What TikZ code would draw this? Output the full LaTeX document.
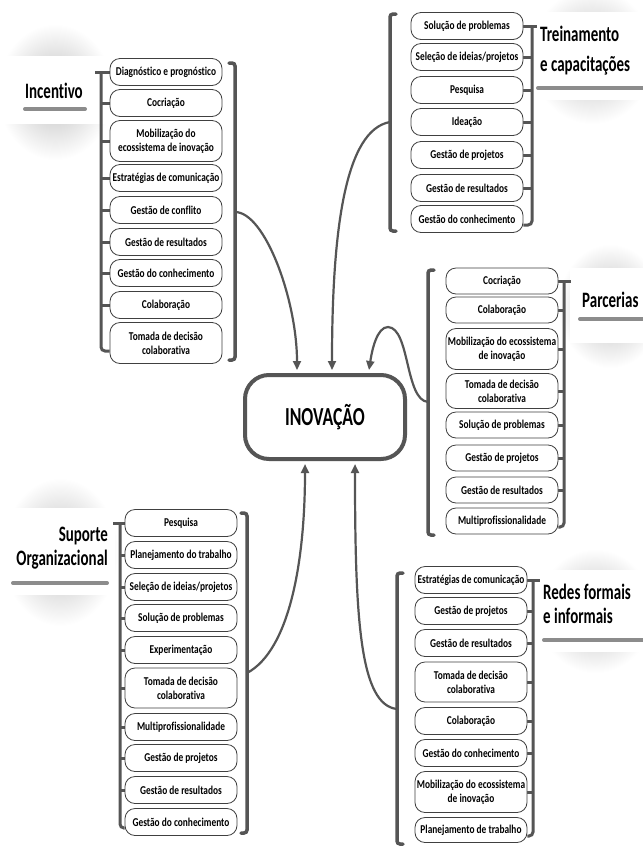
\documentclass[tikz,border=0pt]{standalone}
\usepackage{fontspec}
\setmainfont{Carlito}
\newfontfamily\boxfont[FakeStretch=0.78,Ligatures=NoCommon]{Carlito}
\newfontfamily\headfont[FakeStretch=0.68,Ligatures=NoCommon]{Carlito}
\usetikzlibrary{arrows.meta}

\definecolor{linegray}{HTML}{555555}
\definecolor{bargray}{HTML}{8C8C8C}
\pgfdeclareradialshading{glow}{\pgfpoint{0bp}{0bp}}{color(0bp)=(black!26); color(25bp)=(white); color(50bp)=(white)}
\pgfdeclarelayer{shadow}
\pgfdeclarelayer{lines}
\pgfsetlayers{shadow,lines,main}

\tikzset{
  item/.style={draw=black!75, fill=white, rounded corners=10pt, line width=0.8pt,
    minimum width=112pt, minimum height=27pt, inner sep=1pt, align=center,
    font=\boxfont\bfseries\fontsize{12}{14}\selectfont},
  tall/.style={minimum height=41pt},
  core/.style={draw=linegray, line width=4pt, fill=white, rounded corners=24pt,
    minimum width=160pt, minimum height=84pt,
    font=\headfont\bfseries\fontsize{26}{30}\selectfont},
  head/.style={inner sep=0pt, font=\headfont\bfseries\fontsize{22}{24}\selectfont},
  bar/.style={bargray, line width=4pt, line cap=round},
  tree/.style={linegray, line width=3pt},
  brack/.style={linegray, line width=3.5pt, rounded corners=3pt, line cap=round},
  link/.style={linegray, line width=2.2pt, ->}
}

\begin{document}
\begin{tikzpicture}[x=1pt,y=-1pt,>={Triangle[length=9pt,width=8pt]}]
  \useasboundingbox (0,0) rectangle (643,847);

  \node[core] (inov) at (325,417) {INOVAÇÃO};

  % Incentivo
  \node[head, anchor=base west] (incHead) at (25,98) {Incentivo};
  \node[item] (inc1) at (166,72) {Diagnóstico e prognóstico};
  \node[item] (inc2) at (166,103) {Cocriação};
  \node[item,tall] (inc3) at (166,141) {Mobilização do\\ecossistema de inovação};
  \node[item] (inc4) at (166,178) {Estratégias de comunicação};
  \node[item] (inc5) at (166,210) {Gestão de conflito};
  \node[item] (inc6) at (166,242) {Gestão de resultados};
  \node[item] (inc7) at (166,273) {Gestão do conhecimento};
  \node[item] (inc8) at (166,305) {Colaboração};
  \node[item,tall] (inc9) at (166,343) {Tomada de decisão\\colaborativa};

  % Treinamento
  \node[head, anchor=north west, align=left, font=\headfont\bfseries\fontsize{22}{30}\selectfont]
    (treHead) at (540,26) {Treinamento\\e capacitações};
  \node[item] (tre1) at (467,26) {Solução de problemas};
  \node[item] (tre2) at (467,57) {Seleção de ideias/projetos};
  \node[item] (tre3) at (467,90) {Pesquisa};
  \node[item] (tre4) at (467,122) {Ideação};
  \node[item] (tre5) at (467,155) {Gestão de projetos};
  \node[item] (tre6) at (467,188) {Gestão de resultados};
  \node[item] (tre7) at (467,219) {Gestão do conhecimento};

  % Parcerias
  \node[head, anchor=base west] (parHead) at (582,307) {Parcerias};
  \node[item,minimum height=26pt] (par1) at (502,281) {Cocriação};
  \node[item,minimum height=26pt] (par2) at (502,310) {Colaboração};
  \node[item,tall] (par3) at (502,349) {Mobilização do ecossistema\\de inovação};
  \node[item,minimum height=35pt] (par4) at (502,391) {Tomada de decisão\\colaborativa};
  \node[item,minimum height=26pt] (par5) at (502,425) {Solução de problemas};
  \node[item,minimum height=26pt] (par6) at (502,458) {Gestão de projetos};
  \node[item,minimum height=26pt] (par7) at (502,490) {Gestão de resultados};
  \node[item,minimum height=26pt] (par8) at (502,521) {Multiprofissionalidade};

  % Suporte Organizacional
  \node[head, anchor=north east, align=right] (supHead) at (108,527) {Suporte\\Organizacional};
  \node[item] (sup1) at (181,523) {Pesquisa};
  \node[item] (sup2) at (181,555) {Planejamento do trabalho};
  \node[item] (sup3) at (181,587) {Seleção de ideias/projetos};
  \node[item] (sup4) at (181,618) {Solução de problemas};
  \node[item] (sup5) at (181,650) {Experimentação};
  \node[item,minimum height=40pt] (sup6) at (181,688) {Tomada de decisão\\colaborativa};
  \node[item] (sup7) at (181,727) {Multiprofissionalidade};
  \node[item] (sup8) at (181,758) {Gestão de projetos};
  \node[item] (sup9) at (181,790) {Gestão de resultados};
  \node[item] (sup10) at (181,822) {Gestão do conhecimento};

  % Redes formais e informais
  \node[head, anchor=north west, align=left] (redHead) at (543,584) {Redes formais\\e informais};
  \node[item] (red1) at (471,580) {Estratégias de comunicação};
  \node[item] (red2) at (471,611) {Gestão de projetos};
  \node[item] (red3) at (471,643) {Gestão de resultados};
  \node[item,minimum height=40pt] (red4) at (471,682) {Tomada de decisão\\colaborativa};
  \node[item] (red5) at (471,721) {Colaboração};
  \node[item] (red6) at (471,753) {Gestão do conhecimento};
  \node[item,tall] (red7) at (471,792) {Mobilização do ecossistema\\de inovação};
  \node[item,minimum height=25pt] (red8) at (471,830) {Planejamento de trabalho};

  \draw[bar] (25,109) -- (85,109);
  \draw[bar] (538,88) -- (650,88);
  \draw[bar] (580,319) -- (650,319);
  \draw[bar] (13,583) -- (107,583);
  \draw[bar] (544,640) -- (650,640);

  \begin{pgfonlayer}{shadow}
    \fill[white] (0,0) rectangle (643,847);
    \shade[shading=glow] (55,92) ellipse [x radius=58, y radius=68];
    \shade[shading=glow] (592,56) ellipse [x radius=62, y radius=68];
    \shade[shading=glow] (610,306) ellipse [x radius=52, y radius=62];
    \shade[shading=glow] (60,552) ellipse [x radius=58, y radius=74];
    \shade[shading=glow] (595,611) ellipse [x radius=58, y radius=62];
    \fill[white] (0,56) rectangle (110,124);
    \fill[white] (534,12) rectangle (643,100);
    \fill[white] (570,268) rectangle (643,343);
    \fill[white] (0,508) rectangle (115,595);
    \fill[white] (538,570) rectangle (643,652);
  \end{pgfonlayer}

  \begin{pgfonlayer}{lines}
    \coordinate (incT) at (101,72);
    \coordinate (treT) at (532,26);
    \coordinate (parT) at (564,281);
    \coordinate (supT) at (120,523);
    \coordinate (redT) at (533,580);

    \draw[tree] ([xshift=-6pt]incT) -- (inc1.west);
    \draw[tree,rounded corners=4pt] (incT) |- ([yshift=-8pt]inc9.west);
    \draw[tree] (inc2.west) -- (inc2.west -| incT) (inc3.west) -- (inc3.west -| incT)
      (inc4.west) -- (inc4.west -| incT) (inc5.west) -- (inc5.west -| incT)
      (inc6.west) -- (inc6.west -| incT) (inc7.west) -- (inc7.west -| incT)
      (inc8.west) -- (inc8.west -| incT);

    \draw[tree] (tre1.east) -- ([xshift=5pt]treT);
    \draw[tree,rounded corners=4pt] (treT) |- ([yshift=-6pt]tre7.east);
    \draw[tree] (tre2.east) -- (tre2.east -| treT) (tre3.east) -- (tre3.east -| treT)
      (tre4.east) -- (tre4.east -| treT) (tre5.east) -- (tre5.east -| treT)
      (tre6.east) -- (tre6.east -| treT);

    \draw[tree] (par1.east) -- ([xshift=7pt]parT);
    \draw[tree,rounded corners=4pt] (parT) |- ([yshift=-6pt]par8.east);
    \draw[tree] (par2.east) -- (par2.east -| parT) (par3.east) -- (par3.east -| parT)
      (par4.east) -- (par4.east -| parT) (par5.east) -- (par5.east -| parT)
      (par6.east) -- (par6.east -| parT) (par7.east) -- (par7.east -| parT);

    \draw[tree] ([xshift=-7pt]supT) -- (sup1.west);
    \draw[tree,rounded corners=4pt] (supT) |- ([yshift=-6pt]sup10.west);
    \draw[tree] (sup2.west) -- (sup2.west -| supT) (sup3.west) -- (sup3.west -| supT)
      (sup4.west) -- (sup4.west -| supT) (sup5.west) -- (sup5.west -| supT)
      (sup6.west) -- (sup6.west -| supT) (sup7.west) -- (sup7.west -| supT)
      (sup8.west) -- (sup8.west -| supT) (sup9.west) -- (sup9.west -| supT);

    \draw[tree] (red1.east) -- ([xshift=7pt]redT);
    \draw[tree,rounded corners=4pt] (redT) |- ([yshift=-6pt]red8.east);
    \draw[tree] (red2.east) -- (red2.east -| redT) (red3.east) -- (red3.east -| redT)
      (red4.east) -- (red4.east -| redT) (red5.east) -- (red5.east -| redT)
      (red6.east) -- (red6.east -| redT) (red7.east) -- (red7.east -| redT);

    \coordinate (incB1) at (235,63);
    \coordinate (incB2) at (235,360);
    \coordinate (incM) at (235,212);
    \coordinate (treB1) at (390,14);
    \coordinate (treB2) at (390,231);
    \coordinate (treM) at (390,122);
    \coordinate (parB1) at (428,270);
    \coordinate (parB2) at (428,535);
    \coordinate (parM) at (428,402);
    \coordinate (supB1) at (247,513);
    \coordinate (supB2) at (247,833);
    \coordinate (supM) at (247,673);
    \coordinate (redB1) at (397,573);
    \coordinate (redB2) at (397,844);
    \coordinate (redM) at (397,709);

    \draw[brack] ([xshift=-6pt]incB1) -- (incB1) -- (incB2) -- ([xshift=-6pt]incB2);
    \draw[brack] ([xshift=6pt]treB1) -- (treB1) -- (treB2) -- ([xshift=6pt]treB2);
    \draw[brack] ([xshift=6pt]parB1) -- (parB1) -- (parB2) -- ([xshift=6pt]parB2);
    \draw[brack] ([xshift=-6pt]supB1) -- (supB1) -- (supB2) -- ([xshift=-6pt]supB2);
    \draw[brack] ([xshift=6pt]redB1) -- (redB1) -- (redB2) -- ([xshift=6pt]redB2);

    \draw[link] (incM) .. controls (265,212) and (297,300) .. ([xshift=-28pt,yshift=3pt]inov.north);
    \draw[link] (treM) .. controls (345,130) and (332,230) .. ([xshift=7pt,yshift=3pt]inov.north);
    \draw[link] (parM) .. controls (405,400) and (410,328) .. (388,327)
      .. controls (377,327) and (372,350) .. ([xshift=44pt,yshift=3pt]inov.north);
    \draw[link] (supM) .. controls (290,650) and (305,560) .. ([xshift=-20pt,yshift=-3pt]inov.south);
    \draw[link] (redM) .. controls (360,705) and (355,620) .. ([xshift=30pt,yshift=-3pt]inov.south);
  \end{pgfonlayer}
\end{tikzpicture}
\end{document}
